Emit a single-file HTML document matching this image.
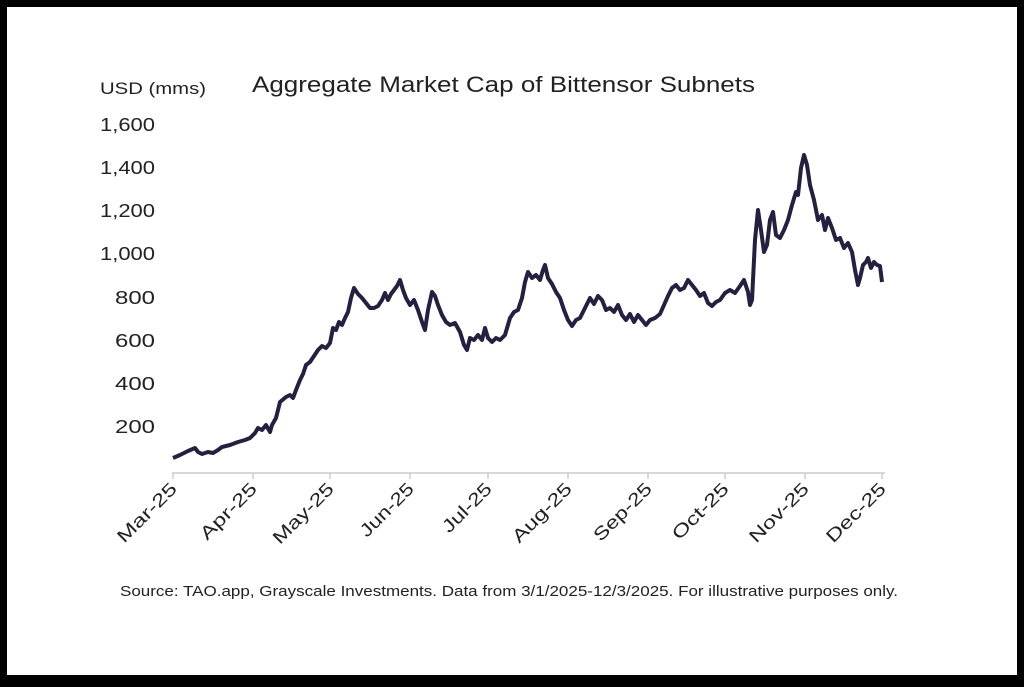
<!DOCTYPE html>
<html><head><style>
body{margin:0;background:#000;}
.f{font-family:"Liberation Sans",sans-serif;}
</style></head><body>
<svg width="1024" height="682" xmlns="http://www.w3.org/2000/svg" class="f">
<rect x="0" y="0" width="1024" height="682" fill="#000"/>
<rect x="7" y="7" width="1010" height="668" fill="#fff"/>
<text x="100" y="94" font-size="17" fill="#222" textLength="106" lengthAdjust="spacingAndGlyphs">USD (mms)</text>
<text x="252" y="92" font-size="22" fill="#222" textLength="503" lengthAdjust="spacingAndGlyphs">Aggregate Market Cap of Bittensor Subnets</text>
<g font-size="18" fill="#222">
<text x="100" y="131" textLength="55" lengthAdjust="spacingAndGlyphs">1,600</text>
<text x="100" y="174" textLength="55" lengthAdjust="spacingAndGlyphs">1,400</text>
<text x="100" y="217" textLength="55" lengthAdjust="spacingAndGlyphs">1,200</text>
<text x="100" y="260" textLength="55" lengthAdjust="spacingAndGlyphs">1,000</text>
<text x="115" y="304" textLength="40" lengthAdjust="spacingAndGlyphs">800</text>
<text x="115" y="347" textLength="40" lengthAdjust="spacingAndGlyphs">600</text>
<text x="115" y="390" textLength="40" lengthAdjust="spacingAndGlyphs">400</text>
<text x="115" y="433" textLength="40" lengthAdjust="spacingAndGlyphs">200</text>
</g>
<line x1="172" y1="473" x2="885" y2="473" stroke="#ccc" stroke-width="1.5"/>
<g stroke="#ccc" stroke-width="1.5">
<line x1="173" y1="473" x2="173" y2="479"/><line x1="253" y1="473" x2="253" y2="479"/><line x1="330" y1="473" x2="330" y2="479"/><line x1="410" y1="473" x2="410" y2="479"/><line x1="488" y1="473" x2="488" y2="479"/><line x1="568" y1="473" x2="568" y2="479"/><line x1="648" y1="473" x2="648" y2="479"/><line x1="725" y1="473" x2="725" y2="479"/><line x1="805" y1="473" x2="805" y2="479"/><line x1="882" y1="473" x2="882" y2="479"/>
</g>
<g font-size="18" fill="#222" text-anchor="end">
<text transform="translate(178,490) rotate(-45)" textLength="76" lengthAdjust="spacingAndGlyphs">Mar-25</text>
<text transform="translate(258,490) rotate(-45)" textLength="72" lengthAdjust="spacingAndGlyphs">Apr-25</text>
<text transform="translate(335,490) rotate(-45)" textLength="78" lengthAdjust="spacingAndGlyphs">May-25</text>
<text transform="translate(415,490) rotate(-45)" textLength="68" lengthAdjust="spacingAndGlyphs">Jun-25</text>
<text transform="translate(493,490) rotate(-45)" textLength="62" lengthAdjust="spacingAndGlyphs">Jul-25</text>
<text transform="translate(573,490) rotate(-45)" textLength="76" lengthAdjust="spacingAndGlyphs">Aug-25</text>
<text transform="translate(653,490) rotate(-45)" textLength="74" lengthAdjust="spacingAndGlyphs">Sep-25</text>
<text transform="translate(730,490) rotate(-45)" textLength="72" lengthAdjust="spacingAndGlyphs">Oct-25</text>
<text transform="translate(810,490) rotate(-45)" textLength="76" lengthAdjust="spacingAndGlyphs">Nov-25</text>
<text transform="translate(887,490) rotate(-45)" textLength="76" lengthAdjust="spacingAndGlyphs">Dec-25</text>
</g>
<polyline fill="none" stroke="#25203f" stroke-width="4" stroke-linejoin="round" points="173,458 180,455 188,451 195,448 198,452 202,454 208,452 213,453 218,450 222,447 230,445 238,442 245,440 250,438 255,433 258,428 262,430 266,425 270,432 272,425 276,418 280,402 286,397 290,395 293,398 296,390 300,380 303,374 306,365 310,362 314,356 318,350 322,346 326,348 330,343 333,328 336,330 339,322 342,325 345,318 348,312 351,298 354,288 358,294 362,298 366,303 370,308 374,308 378,306 382,300 385,293 388,300 391,294 394,290 397,286 400,280 403,290 406,298 410,305 414,300 418,310 422,322 425,330 428,310 432,292 435,296 438,305 442,315 446,322 450,325 455,323 460,332 464,345 467,350 470,338 474,340 478,335 482,340 485,328 488,338 492,342 496,338 500,340 505,335 510,318 514,312 518,310 522,298 525,282 528,272 532,278 536,275 540,280 543,270 545,265 548,278 552,284 556,292 560,298 564,310 568,320 572,326 576,320 580,318 585,308 590,298 594,304 598,296 602,300 606,310 610,308 614,312 618,305 622,315 626,320 630,314 634,322 638,315 642,320 646,325 650,320 655,318 660,314 664,305 668,296 672,288 676,285 680,290 684,288 688,280 692,285 696,290 700,296 704,293 708,303 712,306 716,302 720,300 725,293 730,290 735,293 740,286 744,280 748,292 750,305 752,300 755,240 758,210 761,230 764,252 767,245 770,220 773,212 776,235 780,238 784,230 788,220 792,205 796,192 798,195 801,168 804,155 807,165 810,185 814,200 818,220 822,215 825,230 828,218 832,228 836,240 840,238 844,248 848,243 852,252 855,270 858,285 860,278 863,265 866,262 868,258 871,268 874,262 877,265 880,266 882,282"/>
<text x="120" y="596" font-size="15" fill="#222" textLength="778" lengthAdjust="spacingAndGlyphs">Source: TAO.app, Grayscale Investments. Data from 3/1/2025-12/3/2025. For illustrative purposes only.</text>
</svg>
</body></html>
